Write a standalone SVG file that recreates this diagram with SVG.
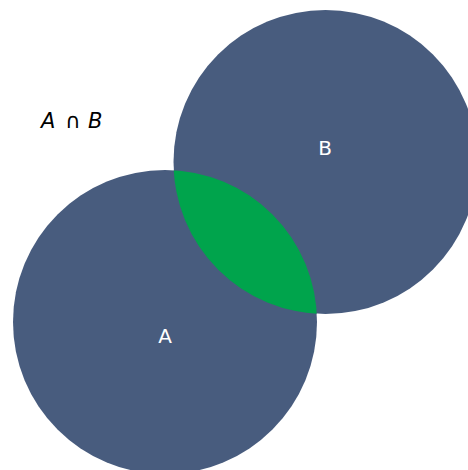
<svg xmlns="http://www.w3.org/2000/svg" width="468" height="470" viewBox="0 0 468 470">
<style>
.set{fill:#485c7e}
.lens{fill:#00a44c}
.lbl{font-family:"DejaVu Sans",sans-serif;font-size:20px;fill:#ffffff;text-anchor:middle}
.title{font-family:"DejaVu Sans",sans-serif;font-size:21px;fill:#000000}
</style>
<defs>
<clipPath id="clipA"><circle cx="165" cy="322" r="152"/></clipPath>
</defs>
<rect width="468" height="470" fill="#ffffff"/>
<g id="setA"><circle class="set" cx="165" cy="322" r="152"/></g>
<g id="setB"><circle class="set" cx="325.5" cy="162" r="152"/></g>
<g id="intersection"><circle class="lens" cx="325.5" cy="162" r="152" clip-path="url(#clipA)"/></g>
<g id="labels">
<text class="lbl" x="165" y="343">A</text>
<text class="lbl" x="325" y="155">B</text>
</g>
<g id="title"><text class="title" y="128"><tspan x="41" font-style="italic">A</tspan><tspan x="65">∩</tspan><tspan x="88" font-style="italic">B</tspan></text></g>
<g id="connectors"/>
</svg>
